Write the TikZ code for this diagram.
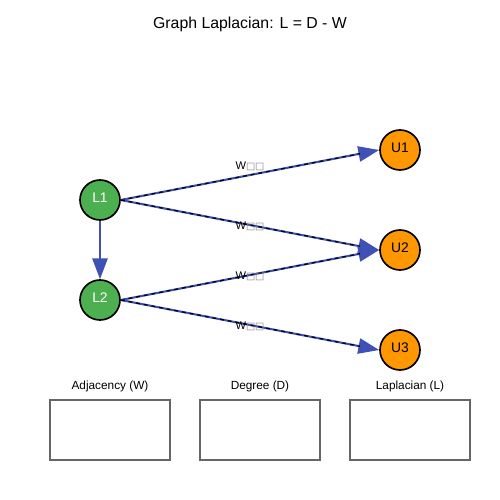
\documentclass[tikz,border=0pt]{standalone}
\usepackage{fontspec}
\setmainfont{Liberation Sans}
\newfontfamily\symfont{DejaVu Sans}
\usetikzlibrary{arrows.meta}
\definecolor{lgreen}{HTML}{4CAF50}
\definecolor{uorange}{HTML}{FF9800}
\definecolor{eblue}{HTML}{3F51B5}
\definecolor{boxgray}{HTML}{666666}
\tikzset{
  lnode/.style={circle, draw=black, line width=1.2pt, fill=lgreen, minimum size=28.8pt, inner sep=0pt, text=white, font=\fontsize{10}{12}\selectfont},
  unode/.style={circle, draw=black, line width=1.2pt, fill=uorange, minimum size=28.8pt, inner sep=0pt, text=black, font=\fontsize{10}{12}\selectfont},
  bigtip/.style={-{Triangle[length=15pt,width=11pt]}},
  wedge/.style={draw=eblue, line width=1.5pt, bigtip, eblue},
  wdash/.style={draw=black, line width=0.9pt, dash pattern=on 2.8pt off 2.8pt},
  wlabel/.style={font=\fontsize{8}{9}\selectfont, inner sep=0pt},
  tofu/.style={},
  matbox/.style={draw=boxgray, line width=0.8pt},
  boxlabel/.style={font=\fontsize{8.5}{10}\selectfont}
}
\newcommand{\tofubox}{{\symfont\textcolor{gray}{\fontsize{7}{8}\selectfont□□}}}
\begin{document}
\begin{tikzpicture}[x=0.72pt, y=-0.72pt]
\useasboundingbox (0,0) rectangle (500,500);
\node (title) at (250,24) {\fontsize{11.4}{14}\selectfont Graph Laplacian: L = D - W};
% nodes
\node[lnode] (L1) at (100,200) {\raisebox{3.5pt}{L1}};
\node[lnode] (L2) at (100,300) {\raisebox{3.5pt}{L2}};
\node[unode] (U1) at (400,150) {\raisebox{3.5pt}{U1}};
\node[unode] (U2) at (400,250) {\raisebox{3.5pt}{U2}};
\node[unode] (U3) at (400,350) {\raisebox{3.5pt}{U3}};
% edges
\draw[wedge] (L1.south) -- (L2.north);
\foreach \a/\b in {L1/U1, L1/U2, L2/U2, L2/U3}{
  \draw[wedge] (\a.east) -- (\b.west);
  \draw[wdash, shorten >=14pt] (\a.east) -- (\b.west);
}
\node[wlabel] (w1) at (250,166) {W\tofubox};
\node[wlabel] (w2) at (250,226) {W\tofubox};
\node[wlabel] (w3) at (250,276) {W\tofubox};
\node[wlabel] (w4) at (250,326) {W\tofubox};
% matrix boxes
\draw[matbox] (50,400) rectangle (170,460);
\draw[matbox] (200,400) rectangle (320,460);
\draw[matbox] (350,400) rectangle (470,460);
\node[boxlabel] (bw) at (110,386) {Adjacency (W)};
\node[boxlabel] (bd) at (260,386) {Degree (D)};
\node[boxlabel] (bl) at (410,386) {Laplacian (L)};
\end{tikzpicture}
\end{document}
